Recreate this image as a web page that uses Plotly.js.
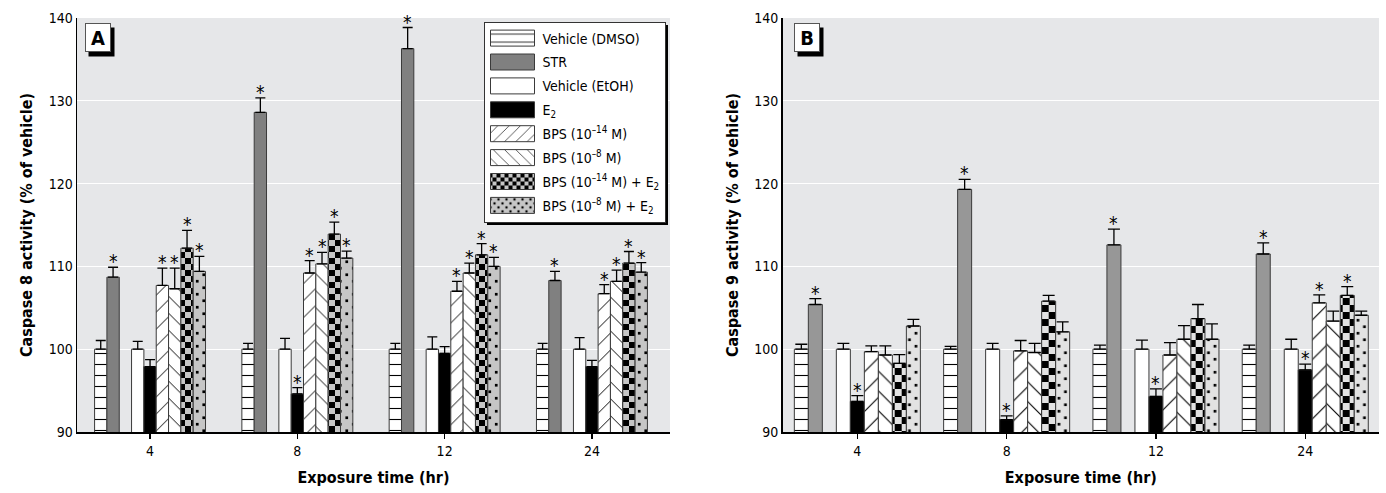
<!DOCTYPE html>
<html><head><meta charset="utf-8">
<script src="https://cdn.plot.ly/plotly-3.0.1.min.js"></script>
<style>html,body{margin:0;padding:0;background:#fff;} #chart{width:1386px;height:493px;}</style>
</head><body><div id="chart"></div>
<script>
// ---------- DATA ----------
const timeLabels = ['4', '8', '12', '24'];
const seriesNames = ['Vehicle (DMSO)', 'STR', 'Vehicle (EtOH)', 'E<sub>2</sub>',
  'BPS (10<sup>–14</sup> M)', 'BPS (10<sup>–8</sup> M)',
  'BPS (10<sup>–14</sup> M) + E<sub>2</sub>', 'BPS (10<sup>–8</sup> M) + E<sub>2</sub>'];

// Panel A: caspase 8 activity (% of vehicle)
const c8_dmso = [100, 100, 100, 100];       const c8_dmso_err = [1.05, 0.7, 0.7, 0.7];     const c8_dmso_sig = [0, 0, 0, 0];
const c8_str = [108.7, 128.6, 136.3, 108.3]; const c8_str_err = [1.2, 1.75, 2.55, 1.1];     const c8_str_sig = [1, 1, 1, 1];
const c8_etoh = [100, 100, 100, 100];       const c8_etoh_err = [0.95, 1.3, 1.5, 1.4];     const c8_etoh_sig = [0, 0, 0, 0];
const c8_e2 = [97.9, 94.6, 99.5, 97.9];     const c8_e2_err = [0.85, 0.75, 0.8, 0.75];     const c8_e2_sig = [0, 1, 0, 0];
const c8_bps14 = [107.7, 109.2, 107.0, 106.7]; const c8_bps14_err = [2.1, 1.5, 1.2, 1.1];  const c8_bps14_sig = [1, 1, 1, 1];
const c8_bps8 = [107.3, 110.3, 109.2, 108.2];  const c8_bps8_err = [2.5, 1.4, 1.2, 1.35];  const c8_bps8_sig = [1, 1, 1, 1];
const c8_bps14e2 = [112.2, 113.9, 111.4, 110.4]; const c8_bps14e2_err = [2.15, 1.45, 1.35, 1.4]; const c8_bps14e2_sig = [1, 1, 1, 1];
const c8_bps8e2 = [109.4, 111.0, 110.0, 109.3];  const c8_bps8e2_err = [1.8, 0.85, 1.1, 1.15];  const c8_bps8e2_sig = [1, 1, 1, 1];

// Panel B: caspase 9 activity (% of vehicle)
const c9_dmso = [100, 100, 100, 100];       const c9_dmso_err = [0.6, 0.35, 0.5, 0.5];     const c9_dmso_sig = [0, 0, 0, 0];
const c9_str = [105.4, 119.3, 112.6, 111.5]; const c9_str_err = [0.7, 1.2, 1.9, 1.35];     const c9_str_sig = [1, 1, 1, 1];
const c9_etoh = [100, 100, 100, 100];       const c9_etoh_err = [0.7, 0.7, 1.1, 1.2];      const c9_etoh_sig = [0, 0, 0, 0];
const c9_e2 = [93.7, 91.5, 94.3, 97.5];     const c9_e2_err = [0.7, 0.45, 0.9, 0.7];       const c9_e2_sig = [1, 1, 1, 1];
const c9_bps14 = [99.7, 99.8, 99.3, 105.6]; const c9_bps14_err = [0.7, 1.25, 1.5, 0.95];   const c9_bps14_sig = [0, 0, 0, 1];
const c9_bps8 = [99.3, 99.6, 101.2, 103.4]; const c9_bps8_err = [1.1, 1.1, 1.65, 1.2];     const c9_bps8_sig = [0, 0, 0, 0];
const c9_bps14e2 = [98.3, 105.8, 103.7, 106.5]; const c9_bps14e2_err = [1.05, 0.7, 1.7, 1.05]; const c9_bps14e2_sig = [0, 0, 0, 1];
const c9_bps8e2 = [102.8, 102.1, 101.2, 104.1]; const c9_bps8e2_err = [0.8, 1.2, 1.85, 0.5];  const c9_bps8e2_sig = [0, 0, 0, 0];

// ---------- STYLE ----------
const W = 1386, H = 493;
const FONT = '"Liberation Sans Narrow", "DejaVu Sans Condensed", "Arial Narrow", "Liberation Sans", sans-serif';
const px2x = p => p / W;
const px2y = p => (H - p) / H;
const slots = [-4, -3, -1, 0, 1, 2, 3, 4];
const CHECK = '#000001';
const DOTS = '#000002';

function styles(panel) {
  const strC = panel === 'A' ? '#808080' : '#979797';
  const lightC = panel === 'A' ? '#c6c6c6' : '#e2e2e2';
  const psz = panel === 'A' ? 12 : 14;
  return [
    {color: '#ffffff', pattern: {shape: '-', fgcolor: '#000', bgcolor: '#fff', size: 11, solidity: 0.1}},
    {color: strC},
    {color: '#ffffff'},
    {color: '#000000'},
    {color: '#ffffff', pattern: {shape: '/', fgcolor: '#000', bgcolor: '#fff', size: psz, solidity: 0.08}},
    {color: '#ffffff', pattern: {shape: '\\', fgcolor: '#000', bgcolor: '#fff', size: psz, solidity: 0.08}},
    {color: lightC, pattern: {shape: '+', fgcolor: CHECK, bgcolor: lightC, size: psz, solidity: 0.3}},
    {color: lightC, pattern: {shape: '.', fgcolor: DOTS, bgcolor: lightC, size: 13, solidity: 0.2}}
  ];
}

const panelA = {means: [c8_dmso, c8_str, c8_etoh, c8_e2, c8_bps14, c8_bps8, c8_bps14e2, c8_bps8e2],
  errs: [c8_dmso_err, c8_str_err, c8_etoh_err, c8_e2_err, c8_bps14_err, c8_bps8_err, c8_bps14e2_err, c8_bps8e2_err],
  sigs: [c8_dmso_sig, c8_str_sig, c8_etoh_sig, c8_e2_sig, c8_bps14_sig, c8_bps8_sig, c8_bps14e2_sig, c8_bps8e2_sig]};
const panelB = {means: [c9_dmso, c9_str, c9_etoh, c9_e2, c9_bps14, c9_bps8, c9_bps14e2, c9_bps8e2],
  errs: [c9_dmso_err, c9_str_err, c9_etoh_err, c9_e2_err, c9_bps14_err, c9_bps8_err, c9_bps14e2_err, c9_bps8e2_err],
  sigs: [c9_dmso_sig, c9_str_sig, c9_etoh_sig, c9_e2_sig, c9_bps14_sig, c9_bps8_sig, c9_bps14e2_sig, c9_bps8e2_sig]};

const xIdx = timeLabels.map((t, i) => i);
const traces = [];
const annotations = [];

function addPanel(pd, panel, xa, ya, bw, showlegend) {
  const st = styles(panel);
  seriesNames.forEach((name, s) => {
    traces.push({
      type: 'bar', name: name, x: xIdx, y: pd.means[s],
      xaxis: xa, yaxis: ya, width: bw, offset: (slots[s] - 0.5) * bw,
      legendgroup: 's' + s, showlegend: showlegend,
      marker: Object.assign({line: {color: '#3a3a3a', width: 1}}, st[s]),
      error_y: {type: 'data', symmetric: false, array: pd.errs[s], arrayminus: pd.means[s].map(() => 0),
        color: '#000', thickness: 1.3, width: (panel === 'A' ? 5 : 6)},
      hoverinfo: 'skip'
    });
    pd.sigs[s].forEach((g, i) => {
      if (!g) return;
      annotations.push({xref: xa, yref: ya, x: i + slots[s] * bw, y: pd.means[s][i] + pd.errs[s][i],
        text: '*', showarrow: false, yanchor: 'bottom', yshift: -7,
        font: {family: FONT, size: 19, color: '#000'}});
    });
  });
}
addPanel(panelA, 'A', 'x', 'y', 0.0837, true);
addPanel(panelB, 'B', 'x2', 'y2', 0.0938, false);

function panelLabel(t, left, top) {
  annotations.push({xref: 'paper', yref: 'paper', x: px2x(left + 13), y: px2y(top + 14.5),
    xanchor: 'center', yanchor: 'middle', text: '<b>' + t + '</b>', showarrow: false,
    width: 22, height: 25, borderpad: 1, borderwidth: 1, bordercolor: '#555', bgcolor: '#fff',
    font: {family: FONT, size: 20, color: '#000'}});
}
panelLabel('A', 84.5, 23.5);
panelLabel('B', 793.5, 23.5);

const shapes = [
  {type: 'rect', xref: 'paper', yref: 'paper', x0: px2x(88.5), x1: px2x(114.5), y0: px2y(27.5), y1: px2y(56.5), fillcolor: '#000', line: {width: 0}, layer: 'above'},
  {type: 'rect', xref: 'paper', yref: 'paper', x0: px2x(797.5), x1: px2x(823.5), y0: px2y(27.5), y1: px2y(56.5), fillcolor: '#000', line: {width: 0}, layer: 'above'}
];

const yTitleFont = {family: FONT, size: 16, color: '#000', weight: 'bold'};
const tickFont = {family: FONT, size: 14, color: '#000'};
function xAxis(domain, range) {
  return {domain: domain, range: range, tickvals: xIdx, ticktext: timeLabels, ticks: 'outside', ticklen: 5,
    tickwidth: 1.5, tickcolor: '#000', showline: true, linecolor: '#000', linewidth: 2, showgrid: false,
    zeroline: false, tickfont: tickFont,
    title: {text: 'Exposure time (hr)', font: yTitleFont, standoff: 14}};
}
function yAxis(domain, title, anchor) {
  return {domain: domain, range: [90, 140], dtick: 10, tick0: 90, ticks: '', showline: true, linecolor: '#000',
    linewidth: 1.5, showgrid: true, gridcolor: '#ffffff', gridwidth: 1, zeroline: false, tickfont: tickFont,
    anchor: anchor, title: {text: title, font: yTitleFont, standoff: 12}};
}
const yDom = [px2y(432), px2y(18)];
const layout = {
  width: W, height: H, margin: {l: 0, r: 0, t: 0, b: 0}, paper_bgcolor: '#fff', plot_bgcolor: '#e6e7e9',
  barmode: 'overlay', font: {family: FONT, size: 14, color: '#000'},
  xaxis: Object.assign(xAxis([px2x(77), px2x(670)], [-0.496, 3.53]), {anchor: 'y'}),
  yaxis: yAxis(yDom, 'Caspase 8 activity (% of vehicle)', 'x'),
  xaxis2: Object.assign(xAxis([px2x(782.7), px2x(1379)], [-0.5, 3.494]), {anchor: 'y2'}),
  yaxis2: yAxis(yDom, 'Caspase 9 activity (% of vehicle)', 'x2'),
  showlegend: true,
  legend: {x: px2x(483.5), y: px2y(21.5), xanchor: 'left', yanchor: 'top', bgcolor: '#fff', bordercolor: '#333',
    borderwidth: 1, font: {family: FONT, size: 14, color: '#000'}, itemwidth: 48, tracegroupgap: 2.7, traceorder: 'grouped'},
  annotations: annotations, shapes: shapes
};

const gd = document.getElementById('chart');
Plotly.newPlot(gd, traces, layout, {staticPlot: true, displayModeBar: false}).then(fixup);

function fixup() {
  const NS = 'http://www.w3.org/2000/svg';
  const mkRect = (parent, x, y, ww, hh, f) => { const r = document.createElementNS(NS, 'rect');
    r.setAttribute('x', x); r.setAttribute('y', y); r.setAttribute('width', ww); r.setAttribute('height', hh);
    r.setAttribute('fill', f); parent.appendChild(r); return r; };
  const has = (html, hex, rgb) => html.indexOf(rgb) >= 0 || html.indexOf(hex) >= 0;
  document.querySelectorAll('pattern').forEach(p => {
    const html = p.outerHTML;
    const isCheck = has(html, '#000001', 'rgb(0, 0, 1)');
    const isDots = has(html, '#000002', 'rgb(0, 0, 2)');
    if (!isCheck && !isDots) return;
    const w = parseFloat(p.getAttribute('width')), h = parseFloat(p.getAttribute('height'));
    const r0 = p.querySelector('rect');
    const bg = r0 ? (r0.style.fill || r0.getAttribute('fill') || '#ccc') : '#ccc';
    while (p.firstChild) p.removeChild(p.firstChild);
    mkRect(p, 0, 0, w, h, bg);
    if (isCheck) {
      mkRect(p, 0, 0, w / 2, h / 2, '#000'); mkRect(p, w / 2, h / 2, w / 2, h / 2, '#000');
    } else {
      const d = 2.7;
      mkRect(p, w / 4 - d / 2, h / 4 - d / 2, d, d, '#000'); mkRect(p, 3 * w / 4 - d / 2, 3 * h / 4 - d / 2, d, d, '#000');
    }
  });
  // widen legend swatches
  gd.querySelectorAll('.legend .traces').forEach(item => {
    const txt = item.querySelector('.legendtext');
    const path = item.querySelector('.legendpoints path');
    if (!txt || !path) return;
    const tl = txt.getBoundingClientRect().left;
    const pr = path.getBoundingClientRect();
    const cur = (pr.left + pr.right) / 2;
    const want = tl - 8 - 22;
    path.setAttribute('d', 'M-22,-8H22V8H-22Z');
    const ex = path.getAttribute('transform') || '';
    path.setAttribute('transform', 'translate(' + (want - cur) + ',0) ' + ex);
  });
  // legend drop shadow
  const bgEl = gd.querySelector('.legend .bg');
  if (bgEl) {
    const lg = bgEl.parentNode;
    const bb = bgEl.getBBox();
    const sh = document.createElementNS(NS, 'rect');
    sh.setAttribute('x', bb.x + 3); sh.setAttribute('y', bb.y + 3);
    sh.setAttribute('width', bb.width); sh.setAttribute('height', bb.height);
    sh.setAttribute('fill', '#000');
    lg.insertBefore(sh, bgEl);
  }
}
</script>
</body></html>
